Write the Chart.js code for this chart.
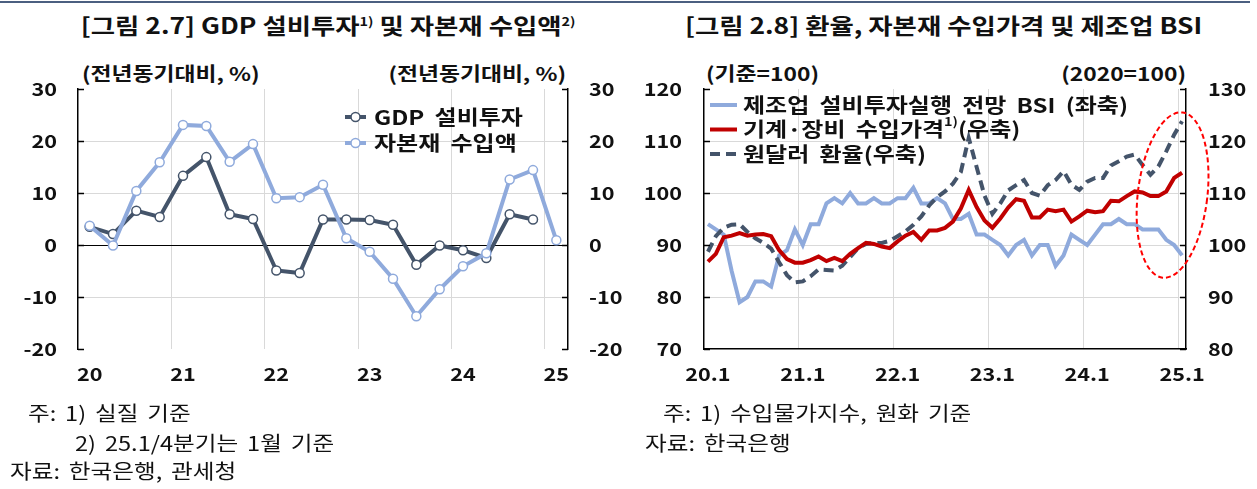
<!DOCTYPE html>
<html>
<head>
<meta charset="utf-8">
<script src="https://cdn.jsdelivr.net/npm/chart.js@4.4.1/dist/chart.umd.min.js"></script>
<style>
  body { margin:0; background:#fff; width:1257px; height:489px; overflow:hidden; position:relative;
         font-family:"Noto Sans CJK KR", sans-serif; color:#111; }
  .topline { position:absolute; left:0; top:1px; width:1250px; height:2px; background:#4b5f80; }
  .txt { position:absolute; white-space:nowrap; }
  .txt span { display:inline-block; transform:scaleX(1.2); }
  .title { top:9px; font-weight:bold; font-size:22px; line-height:30px; text-align:center; }
  .title span { transform-origin:center; }
  .title sup { font-size:12px; vertical-align:top; position:relative; top:-3px; }
  .unit { top:61px; font-weight:bold; font-size:19px; line-height:24px; }
  .note { font-size:20px; line-height:24px; word-spacing:3px; }
  .note span { transform:scaleX(1.18); transform-origin:left; }
  .l span { transform-origin:left; }
  .r { text-align:right; }
  .r span { transform-origin:right; }
  canvas { position:absolute; top:0; }
</style>
</head>
<body>
<div class="topline"></div>
<div class="txt title" style="left:0;width:656px"><span>[그림 2.7] GDP 설비투자<sup>1)</sup> 및 자본재 수입액<sup>2)</sup></span></div>
<div class="txt title" style="left:630px;width:628px"><span>[그림 2.8] 환율, 자본재 수입가격 및 제조업 BSI</span></div>

<div class="txt unit l" style="left:82px"><span>(전년동기대비, %)</span></div>
<div class="txt unit r" style="right:691px"><span>(전년동기대비, %)</span></div>
<div class="txt unit l" style="left:706px"><span>(기준=100)</span></div>
<div class="txt unit r" style="right:71px"><span>(2020=100)</span></div>

<canvas id="gdpChart" width="636" height="400" style="left:0"></canvas>
<canvas id="fxChart" width="621" height="400" style="left:636px"></canvas>

<div class="txt note" style="left:28px;top:401px"><span>주: 1) 실질 기준</span></div>
<div class="txt note" style="left:75px;top:431px"><span>2) 25.1/4분기는 1월 기준</span></div>
<div class="txt note" style="left:10px;top:459px"><span>자료: 한국은행, 관세청</span></div>
<div class="txt note" style="left:663px;top:401px"><span>주: 1) 수입물가지수, 원화 기준</span></div>
<div class="txt note" style="left:645px;top:431px"><span>자료: 한국은행</span></div>

<script>
// ---- [그림 2.7] 분기 데이터 (전년동기대비, %)
var quarters = ['20.1','20.2','20.3','20.4','21.1','21.2','21.3','21.4','22.1','22.2','22.3','22.4',
                '23.1','23.2','23.3','23.4','24.1','24.2','24.3','24.4','25.1'];
var gdpInvest = [3.5, 2.1, 6.6, 5.4, 13.3, 16.9, 5.9, 5.0, -4.9, -5.4, 4.9, 4.9,
                 4.8, 3.9, -3.8, -0.1, -1.0, -2.5, 5.9, 4.9, null];
var capGoodsImport = [3.7, -0.1, 10.4, 15.9, 23.1, 22.9, 16.0, 19.4, 9.0, 9.2, 11.6, 1.3,
                      -1.3, -6.5, -13.7, -8.5, -4.1, -1.6, 12.6, 14.4, 0.9];
var yearTicks = ['20','21','22','23','24','25'];

// ---- [그림 2.8] 월별 데이터
var months = ['20.1','20.2','20.3','20.4','20.5','20.6','20.7','20.8','20.9','20.10','20.11','20.12',
              '21.1','21.2','21.3','21.4','21.5','21.6','21.7','21.8','21.9','21.10','21.11','21.12',
              '22.1','22.2','22.3','22.4','22.5','22.6','22.7','22.8','22.9','22.10','22.11','22.12',
              '23.1','23.2','23.3','23.4','23.5','23.6','23.7','23.8','23.9','23.10','23.11','23.12',
              '24.1','24.2','24.3','24.4','24.5','24.6','24.7','24.8','24.9','24.10','24.11','24.12',
              '25.1'];
// 제조업 설비투자실행 전망 BSI (좌축, 기준=100)
var bsi = [94, 93, 92, 85, 79, 80, 83, 83, 82, 88, 89, 93,
           90, 94, 94, 98, 99, 98, 100, 98, 98, 99, 98, 98,
           99, 99, 101, 98, 98, 99, 98, 95, 95, 96, 92, 92,
           91, 90, 88, 90, 91, 88, 90, 90, 86, 88, 92, 91,
           90, 92, 94, 94, 95, 94, 94, 93, 93, 93, 91, 90,
           88];
// 기계·장비 수입가격 (우축, 2020=100)
var importPrice = [96.8, 98.3, 101.5, 101.8, 102.3, 101.8, 102.0, 102.1, 101.7, 99.0, 97.3, 96.6,
                   96.6, 97.1, 97.8, 96.9, 97.5, 96.9, 98.3, 99.4, 100.4, 100.2, 99.7, 99.4,
                   100.7, 101.8, 102.5, 101.0, 102.8, 102.8, 103.3, 104.5, 107.0, 110.6, 107.3, 104.7,
                   103.3, 105.1, 107.2, 108.8, 108.5, 105.3, 105.3, 106.8, 106.5, 106.8, 104.5, 105.5,
                   106.6, 106.3, 106.5, 108.5, 108.4, 109.4, 110.3, 110.1, 109.4, 109.4, 110.3, 112.9,
                   113.9];
// 원달러 환율 (우축, 2020=100)
var krwUsd = [98.7, 101.7, 103.3, 103.9, 104.0, 102.5, 101.3, 100.4, 99.3, 96.7, 94.2, 92.8,
              93.0, 94.0, 95.3, 95.2, 95.1, 96.0, 97.7, 99.4, 100.2, 100.4, 100.4, 100.8,
              101.7, 102.6, 103.9, 105.5, 107.6, 109.2, 110.3, 111.8, 114.0, 120.6, 115.0, 109.5,
              106.0, 108.0, 110.5, 111.5, 112.5, 110.0, 109.5, 111.5, 112.5, 114.2, 111.6, 110.6,
              112.2, 112.9, 112.9, 115.3, 116.1, 117.0, 117.4, 115.4, 113.5, 115.1, 118.0, 121.2,
              123.8];

var DARK = '#44546a';
var LIGHT = '#8faadc';
var RED = '#c00000';
var GRID = '#d9d9d9';
var FONT = '"Noto Sans CJK KR", sans-serif';
var STRETCH = 1.2;   // 원본 글자가 가로로 넓게 찍혀 있어서

Chart.defaults.font.family = FONT;
Chart.defaults.color = '#111';

// 캔버스 글자를 가로로 늘려 그림
var wideText = {
  id: 'wideText',
  beforeInit: function(chart) {
    var ctx = chart.ctx;
    var fill = ctx.fillText;
    ctx.fillText = function(text, x, y) {
      this.save();
      this.translate(x, y);
      this.scale(STRETCH, 1);
      fill.call(this, text, 0, 0);
      this.restore();
    };
  }
};

// 축 안쪽 눈금
var innerTicks = {
  id: 'innerTicks',
  afterDraw: function(chart) {
    var ctx = chart.ctx;
    ctx.save();
    ctx.strokeStyle = '#000';
    ctx.lineWidth = 1.5;
    ['y', 'y2'].forEach(function(id) {
      var s = chart.scales[id];
      if (!s) return;
      var dir = s.position === 'left' ? 1 : -1;
      var x0 = s.position === 'left' ? s.right : s.left;
      s.ticks.forEach(function(t) {
        var y = Math.round(s.getPixelForValue(t.value)) + 0.5;
        ctx.beginPath();
        ctx.moveTo(x0, y);
        ctx.lineTo(x0 + dir * 6, y);
        ctx.stroke();
      });
    });
    ctx.restore();
  }
};

// 범례 (그림 안쪽)
var insideLegend = {
  id: 'insideLegend',
  afterDatasetsDraw: function(chart, args, opts) {
    var ctx = chart.ctx;
    ctx.save();
    ctx.wordSpacing = '4px';
    opts.items.forEach(function(it, k) {
      var ds = chart.data.datasets[it.ds];
      var y = opts.y + k * opts.gap;
      ctx.strokeStyle = ds.borderColor;
      ctx.lineWidth = ds.borderWidth;
      ctx.setLineDash(ds.borderDash || []);
      ctx.beginPath();
      ctx.moveTo(opts.x, y);
      ctx.lineTo(opts.x + opts.len, y);
      ctx.stroke();
      ctx.setLineDash([]);
      if (ds.pointRadius) {
        ctx.beginPath();
        ctx.arc(opts.x + opts.len / 2, y, ds.pointRadius, 0, Math.PI * 2);
        ctx.fillStyle = '#fff';
        ctx.fill();
        ctx.lineWidth = ds.pointBorderWidth;
        ctx.strokeStyle = ds.pointBorderColor;
        ctx.stroke();
      }
      var tx = opts.x + opts.len + opts.pad;
      ctx.fillStyle = '#111';
      ctx.textBaseline = 'middle';
      ctx.textAlign = 'left';
      it.parts.forEach(function(p) {
        if (p[1]) {
          ctx.font = 'bold 12px ' + FONT;
          ctx.fillText(p[0], tx, y - 8);
        } else {
          ctx.font = 'bold ' + opts.size + 'px ' + FONT;
          ctx.fillText(p[0], tx, y);
        }
        tx += ctx.measureText(p[0]).width * STRETCH;
      });
    });
    ctx.restore();
  }
};

// 빨간 점선 타원 (최근 구간 강조)
var focusEllipse = {
  id: 'focusEllipse',
  afterDraw: function(chart) {
    var xs = chart.scales.x, ys = chart.scales.y;
    var cx = xs.getPixelForValue(58.8);
    var cy = ys.getPixelForValue(99.6);
    var rx = xs.getPixelForValue(63.2) - cx;
    var ry = ys.getPixelForValue(83.6) - cy;
    var ctx = chart.ctx;
    ctx.save();
    ctx.strokeStyle = '#ff0000';
    ctx.lineWidth = 2;
    ctx.setLineDash([5, 3]);
    ctx.beginPath();
    ctx.ellipse(cx, cy, rx, ry, 0.12, 0, Math.PI * 2);
    ctx.stroke();
    ctx.restore();
  }
};

function tickFont() { return { weight: 'bold', size: 18 }; }

new Chart(document.getElementById('gdpChart'), {
  type: 'line',
  data: {
    labels: quarters,
    datasets: [
      { label: 'GDP 설비투자', data: gdpInvest, borderColor: DARK, borderWidth: 4,
        pointRadius: 4.5, pointBorderWidth: 1.5, pointBackgroundColor: '#fff', pointBorderColor: DARK,
        tension: 0, order: 2, yAxisID: 'y' },
      { label: '자본재 수입액', data: capGoodsImport, borderColor: LIGHT, borderWidth: 4,
        pointRadius: 4.5, pointBorderWidth: 1.5, pointBackgroundColor: '#fff', pointBorderColor: LIGHT,
        tension: 0, order: 1, yAxisID: 'y' }
    ]
  },
  options: {
    responsive: false,
    animation: false,
    layout: { padding: { top: 89, bottom: 6, left: 0, right: 4 } },
    plugins: {
      legend: { display: false },
      tooltip: { enabled: false },
      insideLegend: { x: 345, y: 117, gap: 26, len: 21, pad: 8, size: 20,
        items: [ { ds: 0, parts: [['GDP 설비투자']] }, { ds: 1, parts: [['자본재 수입액']] } ] }
    },
    scales: {
      x: {
        offset: true,
        grid: { offset: true, drawTicks: false,
                color: function(c) { return (c.index % 4 === 0 && c.index > 0 && c.index < 21) ? GRID : 'rgba(0,0,0,0)'; } },
        border: { display: false },
        ticks: { autoSkip: false, maxRotation: 0, padding: 14, font: tickFont(),
                 callback: function(v, i) { return i % 4 === 0 ? yearTicks[i / 4] : ''; } },
        afterFit: function(s) { s.height = 45; }
      },
      y: {
        min: -20, max: 30,
        ticks: { stepSize: 10, padding: 21, font: tickFont() },
        grid: { drawTicks: false,
                color: function(c) { var v = c.tick.value; return v === 0 ? '#000' : (v === 30 || v === -20) ? 'rgba(0,0,0,0)' : GRID; } },
        border: { color: '#000', width: 1.5 },
        afterFit: function(s) { s.width = 78; }
      },
      y2: {
        position: 'right', min: -20, max: 30,
        ticks: { stepSize: 10, padding: 21, font: tickFont() },
        grid: { display: false, drawTicks: false },
        border: { color: '#000', width: 1.5 },
        afterFit: function(s) { s.width = 64; }
      }
    }
  },
  plugins: [wideText, innerTicks, insideLegend]
});

new Chart(document.getElementById('fxChart'), {
  type: 'line',
  data: {
    labels: months,
    datasets: [
      { label: '제조업 설비투자실행 전망 BSI (좌축)', data: bsi, borderColor: LIGHT, borderWidth: 4,
        pointRadius: 0, tension: 0, order: 3, yAxisID: 'y' },
      { label: '기계·장비 수입가격1)(우축)', data: importPrice, borderColor: RED, borderWidth: 4,
        pointRadius: 0, tension: 0, order: 1, yAxisID: 'y2' },
      { label: '원달러 환율(우축)', data: krwUsd, borderColor: DARK, borderWidth: 4, borderDash: [10, 6],
        pointRadius: 0, tension: 0, order: 2, yAxisID: 'y2' }
    ]
  },
  options: {
    responsive: false,
    animation: false,
    layout: { padding: { top: 89, bottom: 6, left: 0, right: 4 } },
    plugins: {
      legend: { display: false },
      tooltip: { enabled: false },
      insideLegend: { x: 74, y: 105, gap: 24.5, len: 27, pad: 6, size: 20,
        items: [ { ds: 0, parts: [['제조업 설비투자실행 전망 BSI (좌축)']] },
                 { ds: 1, parts: [['기계·장비 수입가격'], ['1)', true], ['(우축)']] },
                 { ds: 2, parts: [['원달러 환율(우축)']] } ] }
    },
    scales: {
      x: {
        offset: true,
        grid: { offset: true, drawTicks: false,
                color: function(c) { return (c.index % 12 === 0 && c.index > 0 && c.index < 61) ? GRID : 'rgba(0,0,0,0)'; } },
        border: { color: '#000', width: 1.5 },
        ticks: { autoSkip: false, maxRotation: 0, padding: 14, font: tickFont(),
                 callback: function(v, i) { return i % 12 === 0 ? months[i] : ''; } },
        afterFit: function(s) { s.height = 45; }
      },
      y: {
        min: 70, max: 120,
        ticks: { stepSize: 10, padding: 22, font: tickFont() },
        grid: { drawTicks: false,
                color: function(c) { var v = c.tick.value; return (v === 120 || v === 70) ? 'rgba(0,0,0,0)' : GRID; } },
        border: { color: '#000', width: 1.5 },
        afterFit: function(s) { s.width = 68; }
      },
      y2: {
        position: 'right', min: 80, max: 130,
        ticks: { stepSize: 10, padding: 22, font: tickFont() },
        grid: { display: false, drawTicks: false },
        border: { color: '#000', width: 1.5 },
        afterFit: function(s) { s.width = 67; }
      }
    }
  },
  plugins: [wideText, innerTicks, insideLegend, focusEllipse]
});
</script>
</body>
</html>
